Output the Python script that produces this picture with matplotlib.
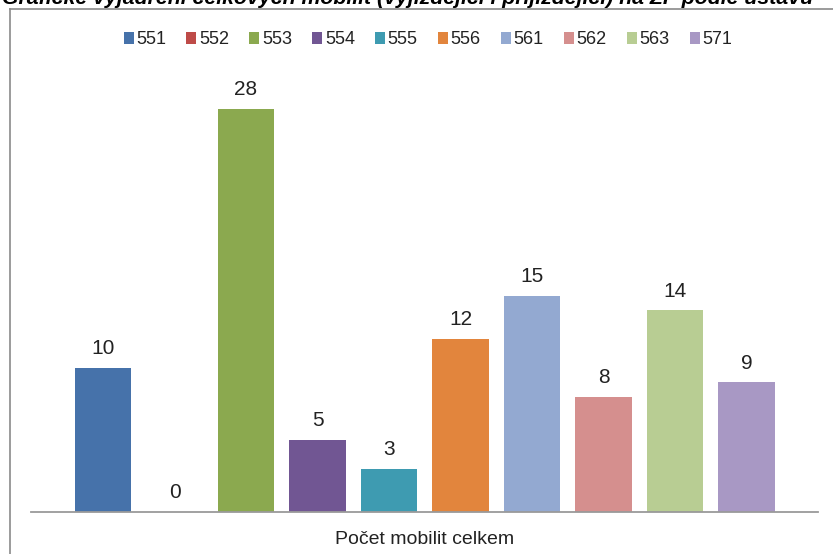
import matplotlib
matplotlib.use("Agg")
import matplotlib.pyplot as plt
from matplotlib.lines import Line2D
from matplotlib.patches import Patch

categories = ["551", "552", "553", "554", "555", "556", "561", "562", "563", "571"]
values = [10, 0, 28, 5, 3, 12, 15, 8, 14, 9]
colors = ["#4672AA", "#BE4B48", "#8BA94F", "#715693", "#3E9BB1",
          "#E2853D", "#93A9D1", "#D58F8E", "#B8CD93", "#A898C4"]
xlabel = "Počet mobilit celkem"
title = "Grafické vyjádření celkových mobilit (vyjíždějící i přijíždějící) na ZF podle ústavů"

FONT = "Liberation Sans"

W, H = 833, 554
fig = plt.figure(figsize=(W / 100, H / 100), dpi=100)
fig.patch.set_facecolor("white")

def fx(px):
    return px / W

def fy(py):
    return 1 - py / H

# outer chart frame (clipped by image edges)
fig.add_artist(Line2D([fx(10), fx(10)], [fy(9), fy(H + 5)], color="#8a8a8a", lw=1.2))
fig.add_artist(Line2D([fx(10), fx(W + 5)], [fy(9), fy(9)], color="#8a8a8a", lw=1.2))

# title, partly cut off at top (as in the reference)
fig.text(fx(2), fy(4), title, fontsize=15.3, fontweight="bold", fontstyle="italic",
         family=FONT, ha="left", va="baseline", color="black")

# axes: baseline at y=512 px, 14.4 px per unit
left, right = 31, 818
base = 512
unit = 14.4
ymax = 30
ax = fig.add_axes([fx(left), fy(base), fx(right - left), (ymax * unit) / H])
ax.set_xlim(-1.007, 10.0)
ax.set_ylim(0, ymax)
for s in ax.spines.values():
    s.set_visible(False)
ax.spines["bottom"].set_visible(True)
ax.spines["bottom"].set_color("#9a9a9a")
ax.spines["bottom"].set_linewidth(1.3)
ax.set_xticks([])
ax.set_yticks([])
ax.patch.set_alpha(0)

xs = list(range(len(categories)))
ax.bar(xs, values, width=0.797, color=colors, zorder=2)
for x, v in zip(xs, values):
    ax.annotate(str(v), (x, v), xytext=(0, 10), textcoords="offset points",
                ha="center", va="baseline", fontsize=15, family=FONT, color="#222222")

fig.text(fx((left + right) / 2), fy(544), xlabel, ha="center", va="baseline",
         fontsize=14, family=FONT, color="#222222")

handles = [Patch(facecolor=c, edgecolor="none") for c in colors]
leg = fig.legend(handles, categories, loc="center", bbox_to_anchor=(fx(428), fy(40)),
                 ncol=len(categories), frameon=False,
                 prop={"family": FONT, "size": 13},
                 handlelength=0.55, handleheight=0.6, handletextpad=0.15, columnspacing=1.12)
for t in leg.get_texts():
    t.set_color("#222222")

fig.savefig("out.png", dpi=100, facecolor="white")
